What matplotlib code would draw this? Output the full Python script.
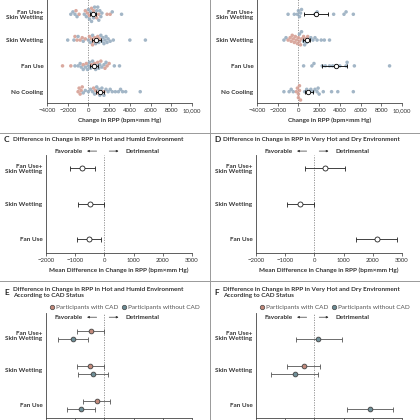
import numpy as np
import matplotlib
matplotlib.use('Agg')
import matplotlib.pyplot as plt
from matplotlib.ticker import FuncFormatter

plt.rcParams['font.family'] = ['Lato', 'DejaVu Sans']

## data
swarm_rows = ['No Cooling', 'Fan Use', 'Skin Wetting', 'Fan Use+\nSkin Wetting']
diff_rows = ['Fan Use', 'Skin Wetting', 'Fan Use+\nSkin Wetting']

# panel A: hot and humid, individual changes in RPP
a_cad = [
    [-1000, -900, -800, -700, -600, 500, 700, 900, 1200, 1500],
    [-2500, -1700, -500, -200, 300, 600, 900, 1200, 1600, 1800, 2000],
    [-1300, -1100, -800, -600, -300, 100, 300, 400, 500, 600, 800, 900, 1100],
    [-1200, -900, -300, -100, 100, 300, 500, 800, 1000, 1800, 2100],
]
a_non = [
    [-500, -300, 0, 200, 400, 600, 800, 1000, 1100, 1300, 1500, 1700, 1900,
     2100, 2300, 2600, 2900, 3100, 3300, 3600, 5000],
    [-1300, -1000, -800, -700, -500, -300, -100, 0, 100, 200, 400, 500, 700,
     800, 1000, 1100, 1300, 1500, 1700, 2500, 3000],
    [-2000, -1400, -1000, -500, 0, 200, 400, 700, 1000, 1200, 1300, 1400,
     1500, 1600, 1700, 1800, 1900, 2100, 2400, 4000, 5500],
    [-1700, -1500, -1300, -1100, -400, -200, 0, 100, 200, 300, 400, 500, 600,
     700, 800, 900, 1000, 1100, 1200, 1300, 2300, 3200],
]
a_mean = [1100, 550, 750, 400]
a_lo = [700, 150, 300, 150]
a_hi = [1500, 950, 1200, 700]

# panel B: very hot and dry
b_cad = [
    [-200, -100, 0, 0, 100, 100, 200],
    [],
    [-1000, -800, -700, -600, -500, -400, -300, -200, -100, 0, 100, 200, 300,
     500, 700, 900],
    [],
]
b_non = [
    [-1400, -900, -700, -500, 600, 800, 1000, 1200, 1400, 1600, 1800, 1900,
     2000, 2400, 3200, 3800, 5300],
    [500, 1300, 1500, 2300, 2600, 3000, 3300, 3600, 4000, 4600, 4700, 5400, 8800],
    [-1400, -1200, 100, 300, 500, 600, 800, 1000, 1200, 1400, 1600, 1800,
     2200, 2500, 3000],
    [-1000, -400, -100, 0, 100, 200, 300, 1600, 1800, 3400, 4400, 4600, 5300],
]
b_mean = [970, 3640, 800, 1700]
b_lo = [640, 2250, 450, 500]
b_hi = [1450, 4670, 1150, 2850]

# panels C and D: mean difference vs no cooling (Fan Use, Skin Wetting, FU+SW)
c_mean = [-530, -490, -760]
c_lo = [-940, -910, -1190]
c_hi = [-110, -20, -310]
d_mean = [2140, -490, 375]
d_lo = [1440, -930, -310]
d_hi = [2840, -20, 1060]

# panels E and F: by CAD status (None = not shown)
e_cad_mean = [-260, -510, -450]
e_cad_lo = [-740, -940, -930]
e_cad_hi = [200, -20, 0]
e_non_mean = [-800, -375, -1080]
e_non_lo = [-1270, -900, -1590]
e_non_hi = [-310, 140, -570]

f_cad_mean = [None, -365, None]
f_cad_lo = [None, -940, None]
f_cad_hi = [None, 200, None]
f_non_mean = [1900, -670, 140]
f_non_lo = [1110, -1470, -625]
f_non_hi = [2680, 110, 930]

CAD_C = '#d49a8e'
NON_C = '#93aabd'
CAD_M = '#c28a7c'
NON_M = '#6f8f98'
TXT = '#333333'
FS = 4.6

W = H = 420
fig = plt.figure(figsize=(4.2, 4.2), dpi=100)


def box(l, t, r, b):
    return [l / W, 1 - b / H, (r - l) / W, (b - t) / H]


def fmt(v, pos):
    v = int(round(v))
    s = f'{abs(v):,}' if abs(v) >= 10000 else str(abs(v))
    return ('\u2212' if v < 0 else '') + s


def style(ax, labels, yvals, xlim, xticks, show_xlabels=True):
    ax.set_xlim(*xlim)
    ax.set_xticks(xticks)
    if show_xlabels:
        ax.xaxis.set_major_formatter(FuncFormatter(fmt))
    else:
        ax.set_xticklabels([])
    ax.set_yticks(yvals)
    ax.set_yticklabels(labels, fontsize=FS, fontweight='bold', color=TXT,
                       linespacing=1.1)
    ax.tick_params(axis='y', length=0, pad=2.5)
    ax.tick_params(axis='x', length=2, width=0.5, pad=1.5, labelsize=FS - 0.3,
                   colors=TXT)
    for s in ['top', 'right']:
        ax.spines[s].set_visible(False)
    for s in ['left', 'bottom']:
        ax.spines[s].set_linewidth(0.6)
        ax.spines[s].set_color('#444444')
    ax.axvline(0, color='#888888', lw=0.6, ls=(0, (1.5, 1.5)), zorder=1)


def swarm(vals, cols, y0, xpx, ypx, d):
    # simple beeswarm: place points in pixel space so they don't overlap
    order = np.argsort(vals)
    placed = []
    xs, ys, cs = [], [], []
    cand = [0.0]
    for k in range(1, 40):
        cand += [k * d * 0.35, -k * d * 0.35]
    for i in order:
        x = vals[i] * xpx
        for off in cand:
            if all((x - px) ** 2 + (off - py) ** 2 >= (0.9 * d) ** 2
                   for px, py in placed):
                break
        placed.append((x, off))
        xs.append(vals[i])
        ys.append(y0 + off / ypx)
        cs.append(cols[i])
    return xs, ys, cs


def swarm_panel(rect, cad, non, mean, lo, hi):
    ax = fig.add_axes(box(*rect))
    ylim = (-0.438, 3.94)
    ax.set_ylim(*ylim)
    style(ax, swarm_rows, range(4), (-4000, 10000), range(-4000, 10001, 2000))
    xpx = (rect[2] - rect[0]) / 14000
    ypx = (rect[3] - rect[1]) / (ylim[1] - ylim[0])
    for k in range(4):
        vals = list(cad[k]) + list(non[k])
        cols = [CAD_C] * len(cad[k]) + [NON_C] * len(non[k])
        xs, ys, cs = swarm(vals, cols, k, xpx, ypx, 3.4)
        ax.scatter(xs, ys, s=6.5, c=cs, edgecolors='none', alpha=0.85, zorder=2)
        ax.errorbar(mean[k], k, xerr=[[mean[k] - lo[k]], [hi[k] - mean[k]]],
                    fmt='o', ms=3.2, mfc='white', mec='black', mew=0.6,
                    ecolor='black', elinewidth=0.6, capsize=1.6, capthick=0.6,
                    zorder=4)
    ax.set_xlabel('Change in RPP (bpm\u00d7mm Hg)', fontsize=FS,
                  fontweight='bold', color=TXT, labelpad=3)
    return ax


def arrows(ax, y):
    tr = ax.get_xaxis_transform()
    ax.text(-750, y, 'Favorable', transform=tr, ha='right', va='center',
            fontsize=FS, fontweight='bold', color=TXT, clip_on=False)
    ax.text(720, y, 'Detrimental', transform=tr, ha='left', va='center',
            fontsize=FS, fontweight='bold', color=TXT, clip_on=False)
    ax.annotate('', xy=(-690, y), xytext=(-170, y), xycoords=tr,
                arrowprops=dict(arrowstyle='-|>', lw=0.5, color=TXT,
                                mutation_scale=3), annotation_clip=False)
    ax.annotate('', xy=(580, y), xytext=(70, y), xycoords=tr,
                arrowprops=dict(arrowstyle='-|>', lw=0.5, color=TXT,
                                mutation_scale=3), annotation_clip=False)


def diff_panel(rect, mean, lo, hi):
    ax = fig.add_axes(box(*rect))
    ax.set_ylim(-0.39, 2.37)
    style(ax, diff_rows, range(3), (-2000, 3000), range(-2000, 3001, 1000))
    for k in range(3):
        ax.errorbar(mean[k], k, xerr=[[mean[k] - lo[k]], [hi[k] - mean[k]]],
                    fmt='o', ms=3.6, mfc='white', mec='#222222', mew=0.6,
                    ecolor='#222222', elinewidth=0.6, capsize=1.8,
                    capthick=0.6, zorder=3)
    ax.set_xlabel('Mean Difference in Change in RPP (bpm\u00d7mm Hg)',
                  fontsize=FS, fontweight='bold', color=TXT, labelpad=3)
    arrows(ax, 1.04)
    return ax


def cad_panel(rect, cm, clo, chi, nm, nlo, nhi):
    ax = fig.add_axes(box(*rect))
    ax.set_ylim(-0.37, 2.63)
    # tick labels fall below the picture edge, as in the reference
    style(ax, diff_rows, range(3), (-2000, 3000), range(-2000, 3001, 1000),
          show_xlabels=False)
    for k in range(3):
        for m, l, h, dy, col in [(cm[k], clo[k], chi[k], 0.12, CAD_M),
                                 (nm[k], nlo[k], nhi[k], -0.12, NON_M)]:
            if m is None:
                continue
            ax.errorbar(m, k + dy, xerr=[[m - l], [h - m]], fmt='o', ms=3.4,
                        mfc=col, mec='#444444', mew=0.6, ecolor='#555555',
                        elinewidth=0.6, capsize=1.8, capthick=0.6, zorder=3)
    arrows(ax, 0.96)
    return ax


def legend(x0, y):
    for dx, col, lab in [(0, CAD_M, 'Participants with CAD'),
                         (72, NON_M, 'Participants without CAD')]:
        fig.lines.append(plt.Line2D([(x0 + dx) / W], [1 - y / H], marker='o',
                                    ms=3.2, mfc=col, mec='#444444', mew=0.5,
                                    transform=fig.transFigure))
        fig.text((x0 + dx + 4) / W, 1 - y / H, lab, fontsize=FS, color='#555555',
                 ha='left', va='center')


def title(x, y, letter, text):
    fig.text(x / W, 1 - y / H, letter, fontsize=6, fontweight='bold',
             color='#222222', ha='left', va='center')
    fig.text((x + 9) / W, 1 - y / H, text, fontsize=FS, fontweight='bold',
             color=TXT, ha='left', va='center', linespacing=1.1)


## panels
swarm_panel((47, -10, 192, 103), a_cad, a_non, a_mean, a_lo, a_hi)
swarm_panel((257, -10, 402, 103), b_cad, b_non, b_mean, b_lo, b_hi)

title(4, 139, 'C', 'Difference in Change in RPP in Hot and Humid Environment')
title(214, 139, 'D', 'Difference in Change in RPP in Very Hot and Dry Environment')
diff_panel((46, 155, 192, 253), c_mean, c_lo, c_hi)
diff_panel((256, 155, 402, 253), d_mean, d_lo, d_hi)

title(4, 292.5, 'E', 'Difference in Change in RPP in Hot and Humid Environment\nAccording to CAD Status')
title(214, 292.5, 'F', 'Difference in Change in RPP in Very Hot and Dry Environment\nAccording to CAD Status')
legend(52, 307)
legend(262, 307)
cad_panel((46, 313, 192, 418), e_cad_mean, e_cad_lo, e_cad_hi,
          e_non_mean, e_non_lo, e_non_hi)
cad_panel((256, 313, 402, 418), f_cad_mean, f_cad_lo, f_cad_hi,
          f_non_mean, f_non_lo, f_non_hi)

# panel borders
for y in [132.7, 281]:
    fig.lines.append(plt.Line2D([0, 1], [1 - y / H] * 2, color='#999999',
                                lw=0.7, transform=fig.transFigure))
fig.lines.append(plt.Line2D([210 / W] * 2, [0, 1], color='#999999', lw=0.7,
                            transform=fig.transFigure))

fig.savefig('out.png', dpi=100)
